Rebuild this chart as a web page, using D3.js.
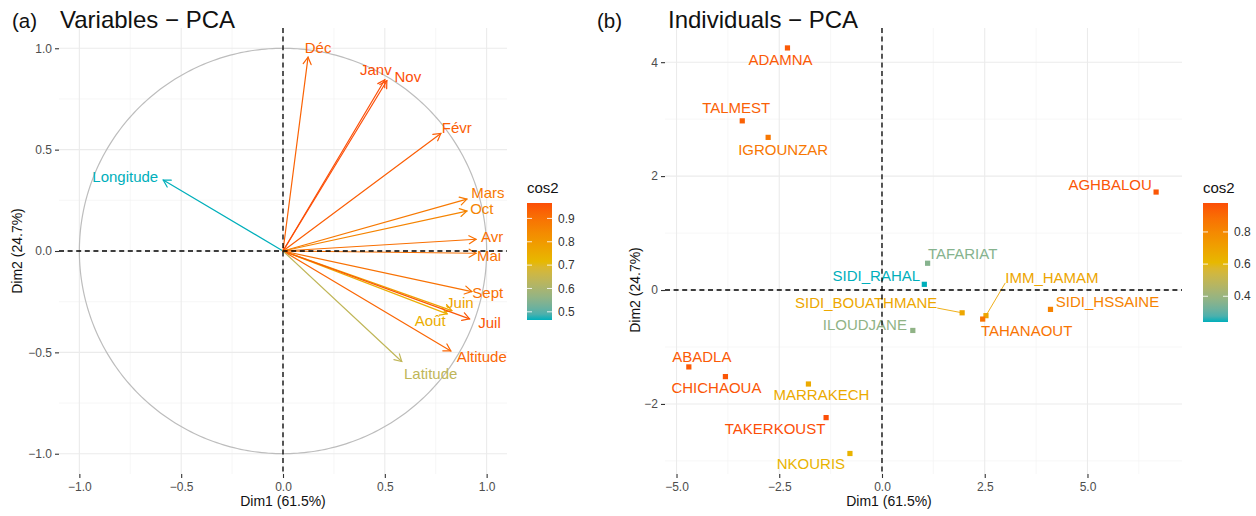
<!DOCTYPE html>
<html>
<head>
<meta charset="utf-8">
<script src="https://cdn.jsdelivr.net/npm/d3@7"></script>
<style>
  body { margin: 0; background: #fff; }
  svg text { font-family: "Liberation Sans", Arial, Helvetica, sans-serif; }
</style>
</head>
<body>
<svg id="fig" width="1256" height="516"></svg>
<script>
// ---------- (a) variables: correlation circle ----------
const varNames = ["Longitude", "Déc", "Janv", "Nov", "Févr", "Mars", "Oct", "Avr", "Mai",
                  "Sept", "Juin", "Août", "Juil", "Altitude", "Latitude"];
const varDim1 = [-0.588, 0.123, 0.500, 0.510, 0.775, 0.903, 0.903, 0.948, 0.948,
                  0.927, 0.829, 0.806, 0.916, 0.824, 0.583];
const varDim2 = [0.350, 0.956, 0.845, 0.840, 0.580, 0.256, 0.197, 0.058, -0.011,
                 -0.200, -0.294, -0.310, -0.335, -0.493, -0.545];
const varCos2 = [0.465, 0.929, 0.964, 0.966, 0.937, 0.881, 0.854, 0.902, 0.899,
                 0.899, 0.774, 0.746, 0.951, 0.922, 0.637];
const varAxisTicks = [-1, -0.5, 0, 0.5, 1];
const varCos2Ticks = [0.5, 0.6, 0.7, 0.8, 0.9];

// ---------- (b) individuals ----------
const indNames = ["ADAMNA", "TALMEST", "IGROUNZAR", "AGHBALOU", "TAFARIAT", "SIDI_RAHAL",
                  "SIDI_BOUATHMANE", "ILOUDJANE", "IMM_HAMAM", "TAHANAOUT", "SIDI_HSSAINE",
                  "ABADLA", "CHICHAOUA", "MARRAKECH", "TAKERKOUST", "NKOURIS"];
const indDim1 = [-2.30, -3.40, -2.77, 6.67, 1.11, 1.03, 1.95, 0.75, 2.53, 2.45, 4.10,
                 -4.70, -3.81, -1.79, -1.36, -0.78];
const indDim2 = [4.25, 2.97, 2.68, 1.72, 0.47, 0.10, -0.40, -0.71, -0.45, -0.51, -0.34,
                 -1.35, -1.52, -1.65, -2.24, -2.87];
const indCos2 = [0.95, 0.93, 0.86, 0.96, 0.36, 0.24, 0.68, 0.38, 0.69, 0.87, 0.82,
                 0.95, 0.96, 0.67, 0.98, 0.63];
const indXTicks = [-5, -2.5, 0, 2.5, 5];
const indYTicks = [-2, 0, 2, 4];
const indCos2Ticks = [0.4, 0.6, 0.8];

const gradientCols = ["#00AFBB", "#E7B800", "#FC4E07"];

// label placement from the repel pass: pixel offset of each label centre from its mark
const varLabelNudge = {
  "Longitude": [-38, -3], "Déc": [10, -9], "Janv": [-9, -10], "Nov": [21, -4],
  "Févr": [16, -6], "Mars": [21, -6], "Oct": [15, -2], "Avr": [16, -2], "Mai": [13, 3],
  "Sept": [16, 1], "Juin": [8, -8], "Août": [-17, 7], "Juil": [20, 4],
  "Altitude": [31, 6], "Latitude": [29, 12]
};
const indLabelNudge = {
  "ADAMNA": [-7, 12], "TALMEST": [-6, -13], "IGROUNZAR": [15, 12], "AGHBALOU": [-46, -7],
  "TAFARIAT": [35, -9], "SIDI_RAHAL": [-48, -9], "SIDI_BOUATHMANE": [-96, -10],
  "ILOUDJANE": [-48, -6], "IMM_HAMAM": [66, -38], "TAHANAOUT": [44, 12],
  "SIDI_HSSAINE": [57, -8], "ABADLA": [13, -10], "CHICHAOUA": [-9, 11],
  "MARRAKECH": [13, 11], "TAKERKOUST": [-51, 11], "NKOURIS": [-39, 10]
};

const svg = d3.select("#fig");
const fmt1 = v => d3.format(".1f")(v).replace("-", "\u2212");
const fmt0 = v => d3.format("d")(v).replace("-", "\u2212");

function colourScale(values) {
  const [lo, hi] = d3.extent(values);
  return d3.scaleLinear().domain([lo, (lo + hi) / 2, hi]).range(gradientCols)
    .interpolate(d3.interpolateLab);
}

function minorBetween(ticks, lo, hi) {
  const step = ticks[1] - ticks[0];
  const out = [];
  for (let v = ticks[0] - step / 2; v <= hi; v += step) if (v >= lo) out.push(v);
  for (let v = ticks[0] - step * 1.5; v >= lo; v -= step) out.push(v);
  return out;
}

function drawFrame(p) {
  const g = svg.append("g");
  const [xl, xh] = p.x.domain(), [yl, yh] = p.y.domain();
  const [px0, px1] = p.x.range(), [py1, py0] = p.y.range();
  // minor grid
  g.selectAll(null).data(minorBetween(p.xTicks, xl, xh)).join("line")
    .attr("x1", d => p.x(d)).attr("x2", d => p.x(d)).attr("y1", py0).attr("y2", py1)
    .attr("stroke", "#F3F3F3").attr("stroke-width", 0.7);
  g.selectAll(null).data(minorBetween(p.yTicks, yl, yh)).join("line")
    .attr("y1", d => p.y(d)).attr("y2", d => p.y(d)).attr("x1", px0).attr("x2", px1)
    .attr("stroke", "#F3F3F3").attr("stroke-width", 0.7);
  // major grid
  g.selectAll(null).data(p.xTicks).join("line")
    .attr("x1", d => p.x(d)).attr("x2", d => p.x(d)).attr("y1", py0).attr("y2", py1)
    .attr("stroke", "#EBEBEB").attr("stroke-width", 1.1);
  g.selectAll(null).data(p.yTicks).join("line")
    .attr("y1", d => p.y(d)).attr("y2", d => p.y(d)).attr("x1", px0).attr("x2", px1)
    .attr("stroke", "#EBEBEB").attr("stroke-width", 1.1);

  // axes (tick marks + labels)
  const xAxis = d3.axisBottom(p.x).tickValues(p.xTicks).tickFormat(p.xFmt)
    .tickSizeInner(4).tickSizeOuter(0).tickPadding(4);
  const yAxis = d3.axisLeft(p.y).tickValues(p.yTicks).tickFormat(p.yFmt)
    .tickSizeInner(4).tickSizeOuter(0).tickPadding(3);
  const ax = svg.append("g").attr("transform", `translate(0,${py1})`).call(xAxis);
  const ay = svg.append("g").attr("transform", `translate(${px0},0)`).call(yAxis);
  [ax, ay].forEach(a => {
    a.select(".domain").remove();
    a.selectAll(".tick line").attr("stroke", "#333").attr("stroke-width", 1.1);
    a.selectAll(".tick text").attr("fill", "#4D4D4D").attr("font-size", 12)
      .attr("font-family", '"Liberation Sans", Arial, sans-serif');
  });

  // axis titles
  svg.append("text").attr("x", p.xTitleX).attr("y", 506).attr("text-anchor", "middle")
    .attr("font-size", 14).attr("fill", "#111").text("Dim1 (61.5%)");
  svg.append("text").attr("transform", `translate(${p.yTitleX},${p.yTitleY}) rotate(-90)`)
    .attr("text-anchor", "middle").attr("font-size", 14).attr("fill", "#111")
    .text("Dim2 (24.7%)");

  // panel tag + title
  svg.append("text").attr("x", p.tagX).attr("y", 28).attr("font-size", 20.5)
    .attr("fill", "#111").text(p.tag);
  svg.append("text").attr("x", p.titleX).attr("y", 28).attr("font-size", 24)
    .attr("fill", "#111").text(p.title);
}

function drawZeroLines(p) {
  const [px0, px1] = p.x.range(), [py1, py0] = p.y.range();
  const g = svg.append("g").attr("stroke", "#000").attr("stroke-width", 1.3)
    .attr("stroke-dasharray", "5,3.6");
  g.append("line").attr("x1", p.x(0)).attr("x2", p.x(0)).attr("y1", py0).attr("y2", py1);
  g.append("line").attr("y1", p.y(0)).attr("y2", p.y(0)).attr("x1", px0).attr("x2", px1);
}

function drawLegend(scale, values, ticks, x0, yTop, yBot, fmt) {
  const [lo, hi] = d3.extent(values);
  const by = d3.scaleLinear().domain([lo, hi]).range([yBot, yTop]);
  const id = "grad" + Math.round(x0);
  const grad = svg.append("defs").append("linearGradient").attr("id", id)
    .attr("x1", 0).attr("x2", 0).attr("y1", 1).attr("y2", 0);
  d3.range(0, 1.0001, 0.05).forEach(t => {
    grad.append("stop").attr("offset", t).attr("stop-color", scale(lo + t * (hi - lo)));
  });
  const w = 25;
  svg.append("text").attr("x", x0).attr("y", 193).attr("font-size", 15)
    .attr("fill", "#111").text("cos2");
  svg.append("rect").attr("x", x0).attr("y", yTop).attr("width", w).attr("height", yBot - yTop)
    .attr("fill", `url(#${id})`);
  const tg = svg.append("g");
  ticks.forEach(t => {
    const yy = by(t);
    tg.append("line").attr("x1", x0).attr("x2", x0 + 5).attr("y1", yy).attr("y2", yy)
      .attr("stroke", "#fff").attr("stroke-width", 1).attr("opacity", 0.85);
    tg.append("line").attr("x1", x0 + w - 5).attr("x2", x0 + w).attr("y1", yy).attr("y2", yy)
      .attr("stroke", "#fff").attr("stroke-width", 1).attr("opacity", 0.85);
    tg.append("text").attr("x", x0 + w + 6).attr("y", yy).attr("dy", "0.35em")
      .attr("font-size", 12).attr("fill", "#333").text(fmt(t));
  });
}

// ===== panel (a) =====
const xa = d3.scaleLinear().domain([-1.1, 1.1]).range([59, 507]);
const ya = d3.scaleLinear().domain([-1.1, 1.1]).range([474, 28]);
const pa = { x: xa, y: ya, xTicks: varAxisTicks, yTicks: varAxisTicks, xFmt: fmt1, yFmt: fmt1,
             xTitleX: 283, yTitleX: 22, yTitleY: 251, tag: "(a)", tagX: 12,
             title: "Variables \u2212 PCA", titleX: 60 };
drawFrame(pa);

// unit circle
const circ = d3.line().x(a => xa(Math.cos(a))).y(a => ya(Math.sin(a)));
svg.append("path").attr("d", circ(d3.range(0, 2 * Math.PI + 0.01, Math.PI / 180)))
  .attr("fill", "none").attr("stroke", "#BDBDBD").attr("stroke-width", 1.2);

const colA = colourScale(varCos2);
const vars = varNames.map((n, i) => ({ name: n, d1: varDim1[i], d2: varDim2[i], c: varCos2[i] }));

function arrowHead(x1, y1, x2, y2, len, ang) {
  const a = Math.atan2(y2 - y1, x2 - x1);
  return `M${x2 - len * Math.cos(a - ang)},${y2 - len * Math.sin(a - ang)}L${x2},${y2}` +
         `L${x2 - len * Math.cos(a + ang)},${y2 - len * Math.sin(a + ang)}`;
}

const arrows = svg.append("g").attr("fill", "none").attr("stroke-linecap", "round");
vars.forEach(v => {
  const x2 = xa(v.d1), y2 = ya(v.d2);
  arrows.append("line").attr("x1", xa(0)).attr("y1", ya(0)).attr("x2", x2).attr("y2", y2)
    .attr("stroke", colA(v.c)).attr("stroke-width", 1.2);
  arrows.append("path").attr("d", arrowHead(xa(0), ya(0), x2, y2, 8, Math.PI / 6))
    .attr("stroke", colA(v.c)).attr("stroke-width", 1.2);
});
svg.append("g").selectAll("text").data(vars).join("text")
  .attr("x", d => xa(d.d1) + varLabelNudge[d.name][0])
  .attr("y", d => ya(d.d2) + varLabelNudge[d.name][1])
  .attr("dy", "0.35em").attr("text-anchor", "middle").attr("font-size", 15)
  .attr("fill", d => colA(d.c)).text(d => d.name);

drawZeroLines(pa);
drawLegend(colA, varCos2, varCos2Ticks, 527, 203, 320, fmt1);

// ===== panel (b) =====
const xb = d3.scaleLinear().domain([-5.28, 7.30]).range([665, 1182]);
const yb = d3.scaleLinear().domain([-3.23, 4.60]).range([474, 28]);
const pb = { x: xb, y: yb, xTicks: indXTicks, yTicks: indYTicks, xFmt: fmt1, yFmt: fmt0,
             xTitleX: 889, yTitleX: 640, yTitleY: 290, tag: "(b)", tagX: 597,
             title: "Individuals \u2212 PCA", titleX: 668 };
drawFrame(pb);

const colB = colourScale(indCos2);
const inds = indNames.map((n, i) => ({ name: n, d1: indDim1[i], d2: indDim2[i], c: indCos2[i] }));

const lblG = svg.append("g");
const segG = svg.append("g");
const ptG = svg.append("g");
inds.forEach(d => {
  const px = xb(d.d1), py = yb(d.d2);
  const [nx, ny] = indLabelNudge[d.name];
  const t = lblG.append("text").attr("x", px + nx).attr("y", py + ny).attr("dy", "0.35em")
    .attr("text-anchor", "middle").attr("font-size", 15).attr("fill", colB(d.c)).text(d.name);
  // connector from the nearest edge of the label box when the label sits away from its point
  const bb = t.node().getBBox();
  const top = bb.y + 3, bot = bb.y + bb.height - 3;
  const cx = Math.max(bb.x, Math.min(px, bb.x + bb.width));
  const cy = Math.max(top, Math.min(py, bot));
  if (Math.hypot(px - cx, py - cy) > 10) {
    segG.append("line").attr("x1", cx).attr("y1", cy).attr("x2", px).attr("y2", py)
      .attr("stroke", colB(d.c)).attr("stroke-width", 0.9);
  }
  ptG.append("rect").attr("x", px - 2.6).attr("y", py - 2.6).attr("width", 5.2).attr("height", 5.2)
    .attr("fill", colB(d.c));
});

drawZeroLines(pb);
drawLegend(colB, indCos2, indCos2Ticks, 1203, 203, 322, fmt1);
</script>
</body>
</html>
